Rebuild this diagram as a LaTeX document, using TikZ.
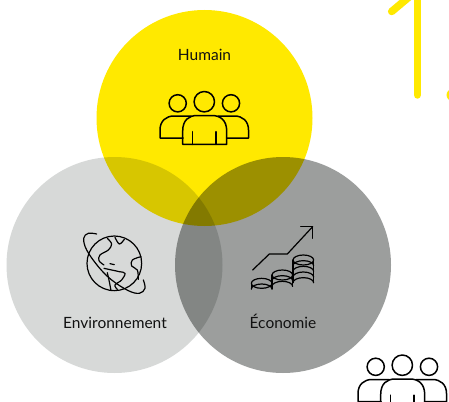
\documentclass[tikz,border=0pt]{standalone}
\usepackage{fontspec}
\setmainfont{Lato}
\usetikzlibrary{arrows.meta}
\definecolor{ykk}{HTML}{FFE900}
\definecolor{lgr}{HTML}{D7D9D8}
\definecolor{dgr}{HTML}{9C9E9D}
\definecolor{ink}{HTML}{111111}
\tikzset{
  disc/.style={circle,minimum size=216pt,inner sep=0pt,outer sep=0pt,fill=#1,blend mode=multiply},
  lab/.style={text=ink,font=\fontsize{15.5pt}{18pt}\selectfont,inner sep=0pt,anchor=base},
  ico/.style={draw=black,line width=1.5pt,line join=round,line cap=round},
  thin ico/.style={draw=black,line width=1.2pt,line join=round,line cap=round},
  bigone/.style={draw=ykk,line width=7.5pt,line cap=round},
  people/.pic={
    \draw[ico] (204.3,101.7) circle[radius=10.2];
    \draw[ico] (177.7,103.3) circle[radius=8.6];
    \draw[ico] (231,103.3) circle[radius=8.6];
    \draw[ico] (182.7,144.3) -- (182.7,131) .. controls (182.7,120) and (189,115.5) .. (197,115.5) -- (212,115.5) .. controls (220,115.5) and (226.7,120) .. (226.7,131) -- (226.7,144.3) -- cycle;
    \draw[ico] (192.7,131.7) -- (192.7,144.3) (216,131.7) -- (216,144.3);
    \draw[ico] (183,138) -- (160,138) -- (160,130) .. controls (160,121) and (166,116) .. (174,116) -- (191,116);
    \draw[ico] (226.7,138) -- (248.5,138) -- (248.5,130) .. controls (248.5,121) and (242.5,116) .. (234.5,116) -- (218,116);
  }
}
\newcommand{\coinstack}[3]{% centre x, top centre y, layers
  \draw[thin ico] (#1,#2) circle[x radius=31,y radius=15];
  \draw[thin ico] (#1-31,#2) -- (#1-31,#2+#3*17);
  \draw[thin ico] (#1+31,#2) -- (#1+31,#2+#3*17);
  \foreach \k in {1,...,#3}{
    \draw[thin ico] (#1-31,#2+\k*17) arc[start angle=180,end angle=360,x radius=31,y radius=15];
  }
}
\begin{document}
\begin{tikzpicture}[x=1pt,y=-1pt]
\useasboundingbox (0,0) rectangle (449,401);
\clip (0,0) rectangle (449,401);
\fill[white] (0,0) rectangle (449,401);
\node[disc=ykk] (hum) at (204.5,118) {};
\node[disc=lgr] (env) at (114.5,265) {};
\node[disc=dgr] (eco) at (283,265) {};
\node[lab] (humt) at (204.5,61) {Humain};
\node[lab] (envt) at (115,328) {Environnement};
\node[lab] (ecot) at (283,328) {Économie};
\pic {people};
\pic[shift={(198,263.5)}] {people};
% big numeral
\draw[bigone] (391.7,11.5) -- (417.3,-10);
\draw[bigone] (417.3,-10) -- (417.3,95);
\fill[ykk] (452.5,95) circle[radius=6];
% globe
\begin{scope}[shift={(30,220)},x=0.3333pt,y=-0.3333pt]
  \draw[thin ico] (253,130) circle[radius=82];
  \draw[thin ico] plot[smooth,tension=0.6] coordinates {(200,42) (175,40) (161,55) (170,90) (205,140) (245,180) (295,212) (328,220) (345,205) (340,180)};
  \draw[thin ico] plot[smooth,tension=0.6] coordinates {(232,55) (245,72) (235,90) (210,105) (207,122) (222,135)};
  \draw[thin ico] plot[smooth,tension=0.6] coordinates {(255,52) (268,72) (283,58)};
  \draw[thin ico] plot[smooth,tension=0.6] coordinates {(333,110) (307,120) (305,138) (322,150) (325,178)};
  \draw[thin ico] plot[smooth,tension=0.6] coordinates {(222,145) (245,150) (268,155) (285,160) (275,180) (255,195) (262,208)};
  \draw[thin ico] plot[smooth,tension=0.6] coordinates {(232,158) (238,185) (243,212)};
  \draw[thin ico] (240,131) -- (253,134);
\end{scope}
% growth chart
\begin{scope}[shift={(230,215)},x=0.3333pt,y=-0.3333pt]
  \draw[thin ico] (68,165) -- (118,117) -- (172,117) -- (248,35);
  \draw[thin ico] (212,35) -- (248,35) -- (248,70);
  \coinstack{95}{205}{1}
  \coinstack{157}{180}{2}
  \coinstack{220}{135}{4}
\end{scope}
\end{tikzpicture}
\end{document}
